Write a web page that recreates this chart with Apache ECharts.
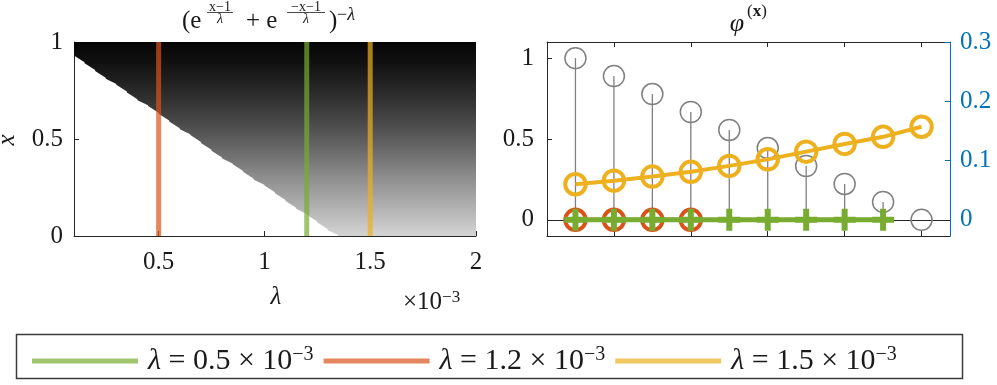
<!DOCTYPE html>
<html>
<head>
<meta charset="utf-8">
<title>phi chart</title>
<script src="https://cdn.jsdelivr.net/npm/echarts@6/dist/echarts.min.js"></script>
<style>
  html, body { margin: 0; padding: 0; background: #fff; }
  #main { width: 997px; height: 385px; }
</style>
</head>
<body>
<div id="main"></div>
<script>
// ---- left panel: image columns (lambda in 1e-3) and the x below which the image is blank
var lambdaCols = [0.1, 0.15, 0.2, 0.25, 0.3, 0.35, 0.4, 0.45, 0.5, 0.55, 0.6, 0.65, 0.7, 0.75, 0.8,
  0.85, 0.9, 0.95, 1.0, 1.05, 1.1, 1.15, 1.2, 1.25, 1.3, 1.35, 1.4, 1.45, 1.5, 1.55, 1.6, 1.65,
  1.7, 1.75, 1.8, 1.85, 1.9, 1.95, 2.0];
var whiteEdge = [0.93, 0.89, 0.85, 0.81, 0.78, 0.74, 0.70, 0.67, 0.63, 0.59, 0.55, 0.52, 0.48, 0.44, 0.40,
  0.37, 0.33, 0.29, 0.26, 0.22, 0.18, 0.14, 0.11, 0.07, 0.03, 0, 0, 0, 0, 0, 0, 0,
  0, 0, 0, 0, 0, 0, 0];
// grey level of the image along x
var shadeX = [0, 0.1, 0.2, 0.3, 0.4, 0.5, 0.6, 0.7, 0.8, 0.9, 1];
var shadeGrey = [212, 188, 165, 142, 116, 92, 70, 50, 32, 16, 5];
var markLambdas = [0.5, 1.2, 1.5];
var markColors = ['#D95319', '#77AC30', '#EDB120'];
var leftXTicks = [0.5, 1, 1.5, 2];
var leftYTicks = [0, 0.5, 1];

// ---- right panel
var idx = [1, 2, 3, 4, 5, 6, 7, 8, 9, 10];
var stemVals = [1, 0.889, 0.778, 0.667, 0.556, 0.444, 0.333, 0.222, 0.111, 0];
var redVals = [0, 0, 0, 0];
var greenVals = [0, 0, 0, 0, 0, 0, 0, 0, 0];
var yellowVals = [0.060, 0.066, 0.073, 0.081, 0.091, 0.102, 0.115, 0.128, 0.140, 0.157];
var rightXTicks = [2, 4, 6, 8, 10];
var rightYTicks = [0, 0.5, 1];
var rightY2Ticks = [0, 0.1, 0.2, 0.3];

var legendLambda = ['0.5', '1.2', '1.5'];
var legendNames = legendLambda.map(function (l) { return 'λ = ' + l + ' × 10⁻³'; });

var FONT = 'Times New Roman, Times, Liberation Serif, DejaVu Serif, serif';
var TXT = '#1a1a1a';
var AX = '#262626';
var BLUE = '#0072BD';

var chart = echarts.init(document.getElementById('main'));

var greyStops = shadeX.map(function (sx, i) {
  var g = shadeGrey[i];
  return { offset: 1 - sx, color: 'rgb(' + g + ',' + g + ',' + g + ')' };
}).reverse();

// one quad per pair of neighbouring columns, bottom side follows the blank edge
function renderImage(params, api) {
  var i = params.dataIndex;
  if (i >= lambdaCols.length - 1) return null;
  var l0 = api.value(0), e0 = api.value(1);
  var l1 = lambdaCols[i + 1], e1 = whiteEdge[i + 1];
  var a = api.coord([l0, 1]), b = api.coord([l1, 1]);
  var c = api.coord([l1, e1]), d = api.coord([l0, e0]);
  var top = api.coord([l0, 1]), bot = api.coord([l0, 0]);
  return {
    type: 'polygon',
    shape: { points: [[a[0], a[1]], [b[0] + 1.5, b[1]], [c[0] + 1.5, c[1]], [d[0], d[1]]] },
    style: { fill: new echarts.graphic.LinearGradient(0, top[1], 0, bot[1], greyStops, true) }
  };
}

function renderStem(params, api) {
  var base = api.coord([api.value(0), 0]);
  var tip = api.coord([api.value(0), api.value(1)]);
  return {
    type: 'group',
    children: [
      { type: 'line', shape: { x1: base[0], y1: base[1], x2: tip[0], y2: tip[1] },
        style: { stroke: '#808080', lineWidth: 1.3 } },
      { type: 'circle', shape: { cx: tip[0], cy: tip[1], r: 10.5 },
        style: { fill: 'none', stroke: '#808080', lineWidth: 1.5 } }
    ]
  };
}

function tickAxis(ticks, showLabel, color, margin) {
  return {
    axisLine: { show: true, onZero: false, lineStyle: { color: color, width: 1 } },
    axisTick: { show: true, inside: true, length: 5, customValues: ticks, lineStyle: { color: color } },
    axisLabel: { show: showLabel, customValues: ticks, fontFamily: FONT, fontSize: 25,
      color: color === AX ? TXT : color, margin: margin },
    splitLine: { show: false }
  };
}

var plusPath = 'path://M4,0H7V4H11V7H7V11H4V7H0V4H4Z';

var series = [
  {
    type: 'custom', xAxisIndex: 0, yAxisIndex: 0, clip: true, silent: true, z: 2,
    renderItem: renderImage,
    data: lambdaCols.map(function (l, i) { return [l, whiteEdge[i]]; })
  }
];
markLambdas.forEach(function (l, i) {
  series.push({
    type: 'line', xAxisIndex: 0, yAxisIndex: 0, silent: true, z: 5, symbol: 'none',
    lineStyle: { color: markColors[i], width: 5, opacity: 0.7 },
    data: [[l, 0], [l, 1]]
  });
});
series.push(
  {
    type: 'custom', xAxisIndex: 1, yAxisIndex: 1, z: 2, silent: true,
    renderItem: renderStem,
    data: idx.map(function (x, i) { return [x, stemVals[i]]; })
  },
  {
    name: legendNames[1], type: 'line', xAxisIndex: 1, yAxisIndex: 1, z: 3,
    symbol: 'circle', symbolSize: 20.5,
    itemStyle: { color: 'transparent', borderColor: '#D95319', borderWidth: 4 },
    lineStyle: { color: '#D95319', width: 4 },
    data: redVals.map(function (v, i) { return [idx[i], v]; }),
    markLine: {
      silent: true, symbol: 'none', z: 2, label: { show: false },
      lineStyle: { color: AX, width: 1, type: 'solid' },
      data: [{ yAxis: 0 }]
    }
  },
  {
    name: legendNames[0], type: 'line', xAxisIndex: 1, yAxisIndex: 1, z: 4,
    symbol: plusPath, symbolSize: 22,
    itemStyle: { color: '#77AC30' },
    lineStyle: { color: '#77AC30', width: 5, type: [31, 7] },
    data: greenVals.map(function (v, i) { return [idx[i], v]; })
  },
  {
    name: legendNames[2], type: 'line', xAxisIndex: 1, yAxisIndex: 2, z: 5,
    symbol: 'circle', symbolSize: 20.5,
    itemStyle: { color: 'transparent', borderColor: '#EDB120', borderWidth: 4 },
    lineStyle: { color: '#EDB120', width: 4 },
    data: yellowVals.map(function (v, i) { return [idx[i], v]; })
  }
);

var option = {
  animation: false,
  backgroundColor: '#fff',
  grid: [
    { left: 74, top: 42, width: 402, height: 194 },
    { left: 547, top: 42, width: 403, height: 194 }
  ],
  xAxis: [
    Object.assign({ gridIndex: 0, type: 'value', min: 0.1, max: 2, position: 'bottom' },
      tickAxis(leftXTicks, true, AX, 14)),
    Object.assign({ gridIndex: 1, type: 'value', min: 0.26, max: 10.74, position: 'bottom' },
      tickAxis(rightXTicks, false, AX, 8)),
    Object.assign({ gridIndex: 1, type: 'value', min: 0.26, max: 10.74, position: 'top' },
      tickAxis(rightXTicks, false, AX, 8))
  ],
  yAxis: [
    Object.assign({ gridIndex: 0, type: 'value', min: 0, max: 1, position: 'left' },
      tickAxis(leftYTicks, true, AX, 11)),
    Object.assign({ gridIndex: 1, type: 'value', min: -0.1, max: 1.1, position: 'left' },
      tickAxis(rightYTicks, true, AX, 13)),
    Object.assign({ gridIndex: 1, type: 'value', min: -0.0273, max: 0.3, position: 'right' },
      tickAxis(rightY2Ticks, true, BLUE, 10))
  ],
  legend: {
    left: 27, top: 340, orient: 'horizontal', selectedMode: false,
    icon: 'rect', itemWidth: 106, itemHeight: 5, itemGap: 10,
    data: [
      { name: legendNames[0], itemStyle: { color: 'rgba(119,172,48,0.7)', borderWidth: 0 } },
      { name: legendNames[1], itemStyle: { color: 'rgba(217,83,25,0.7)', borderWidth: 0 } },
      { name: legendNames[2], itemStyle: { color: 'rgba(237,177,32,0.7)', borderWidth: 0 } }
    ],
    formatter: function (name) {
      var l = legendLambda[legendNames.indexOf(name)];
      return '{i|λ}{t| = ' + l + ' × 10}{s|−3}';
    },
    textStyle: {
      width: 190, padding: [0, 0, 0, 5], color: TXT, fontFamily: FONT,
      rich: {
        i: { fontFamily: FONT, fontStyle: 'italic', fontSize: 30, lineHeight: 32, color: TXT },
        t: { fontFamily: FONT, fontSize: 30, lineHeight: 32, color: TXT },
        s: { fontFamily: FONT, fontSize: 20, lineHeight: 16, verticalAlign: 'top', color: TXT }
      }
    }
  },
  graphic: [
    { type: 'rect', silent: true, shape: { x: 16.5, y: 334.5, width: 946, height: 44 },
      style: { fill: 'none', stroke: '#3c3c3c', lineWidth: 1.5 } },
    // left title  (e^{(x-1)/λ} + e^{(-x-1)/λ})^{-λ}
    { type: 'text', x: 182, y: 21.5, style: { text: '(e', fontFamily: FONT, fontSize: 25, fill: TXT, textVerticalAlign: 'middle' } },
    { type: 'text', x: 220, y: 7, style: { text: 'x−1', fontFamily: FONT, fontSize: 14, fill: TXT, textAlign: 'center', textVerticalAlign: 'middle' } },
    { type: 'line', shape: { x1: 207, y1: 12.5, x2: 233, y2: 12.5 }, style: { stroke: TXT, lineWidth: 0.8 } },
    { type: 'text', x: 220, y: 19, style: { text: 'λ', fontFamily: FONT, fontStyle: 'italic', fontSize: 14, fill: TXT, textAlign: 'center', textVerticalAlign: 'middle' } },
    { type: 'text', x: 246, y: 21.5, style: { text: '+ e', fontFamily: FONT, fontSize: 25, fill: TXT, textVerticalAlign: 'middle' } },
    { type: 'text', x: 306, y: 7, style: { text: '−x−1', fontFamily: FONT, fontSize: 14, fill: TXT, textAlign: 'center', textVerticalAlign: 'middle' } },
    { type: 'line', shape: { x1: 287, y1: 12.5, x2: 325, y2: 12.5 }, style: { stroke: TXT, lineWidth: 0.8 } },
    { type: 'text', x: 306, y: 19, style: { text: 'λ', fontFamily: FONT, fontStyle: 'italic', fontSize: 14, fill: TXT, textAlign: 'center', textVerticalAlign: 'middle' } },
    { type: 'text', x: 329, y: 21.5, style: { text: ')', fontFamily: FONT, fontSize: 25, fill: TXT, textVerticalAlign: 'middle' } },
    { type: 'text', x: 337, y: 15, style: { text: '{a|−}{b|λ}', fill: TXT, textVerticalAlign: 'middle',
      rich: { a: { fontFamily: FONT, fontSize: 18, fill: TXT }, b: { fontFamily: FONT, fontStyle: 'italic', fontSize: 18, fill: TXT } } } },
    // right title  φ^(x)
    { type: 'text', x: 737, y: 24, style: { text: 'φ', fontFamily: FONT, fontStyle: 'italic', fontSize: 26, fill: TXT, textAlign: 'center', textVerticalAlign: 'middle' } },
    { type: 'text', x: 747, y: 12, style: { text: '{a|(}{b|x}{a|)}', fill: TXT, textVerticalAlign: 'middle',
      rich: { a: { fontFamily: FONT, fontSize: 17, fill: TXT }, b: { fontFamily: FONT, fontWeight: 'bold', fontSize: 17, fill: TXT } } } },
    // axis names of the left panel
    { type: 'text', x: 7, y: 140, rotation: Math.PI / 2, style: { text: 'x', fontFamily: FONT, fontStyle: 'italic', fontSize: 25, fill: TXT, textAlign: 'center', textVerticalAlign: 'middle' } },
    { type: 'text', x: 276, y: 297, style: { text: 'λ', fontFamily: FONT, fontStyle: 'italic', fontSize: 25, fill: TXT, textAlign: 'center', textVerticalAlign: 'middle' } },
    { type: 'text', x: 403, y: 302, style: { text: '{a|×10}{b|−3}', fill: TXT, textVerticalAlign: 'middle',
      rich: { a: { fontFamily: FONT, fontSize: 25, lineHeight: 26, fill: TXT, verticalAlign: 'bottom' },
              b: { fontFamily: FONT, fontSize: 17, lineHeight: 14, fill: TXT, verticalAlign: 'top' } } } }
  ],
  series: series
};

chart.setOption(option);
</script>
</body>
</html>
